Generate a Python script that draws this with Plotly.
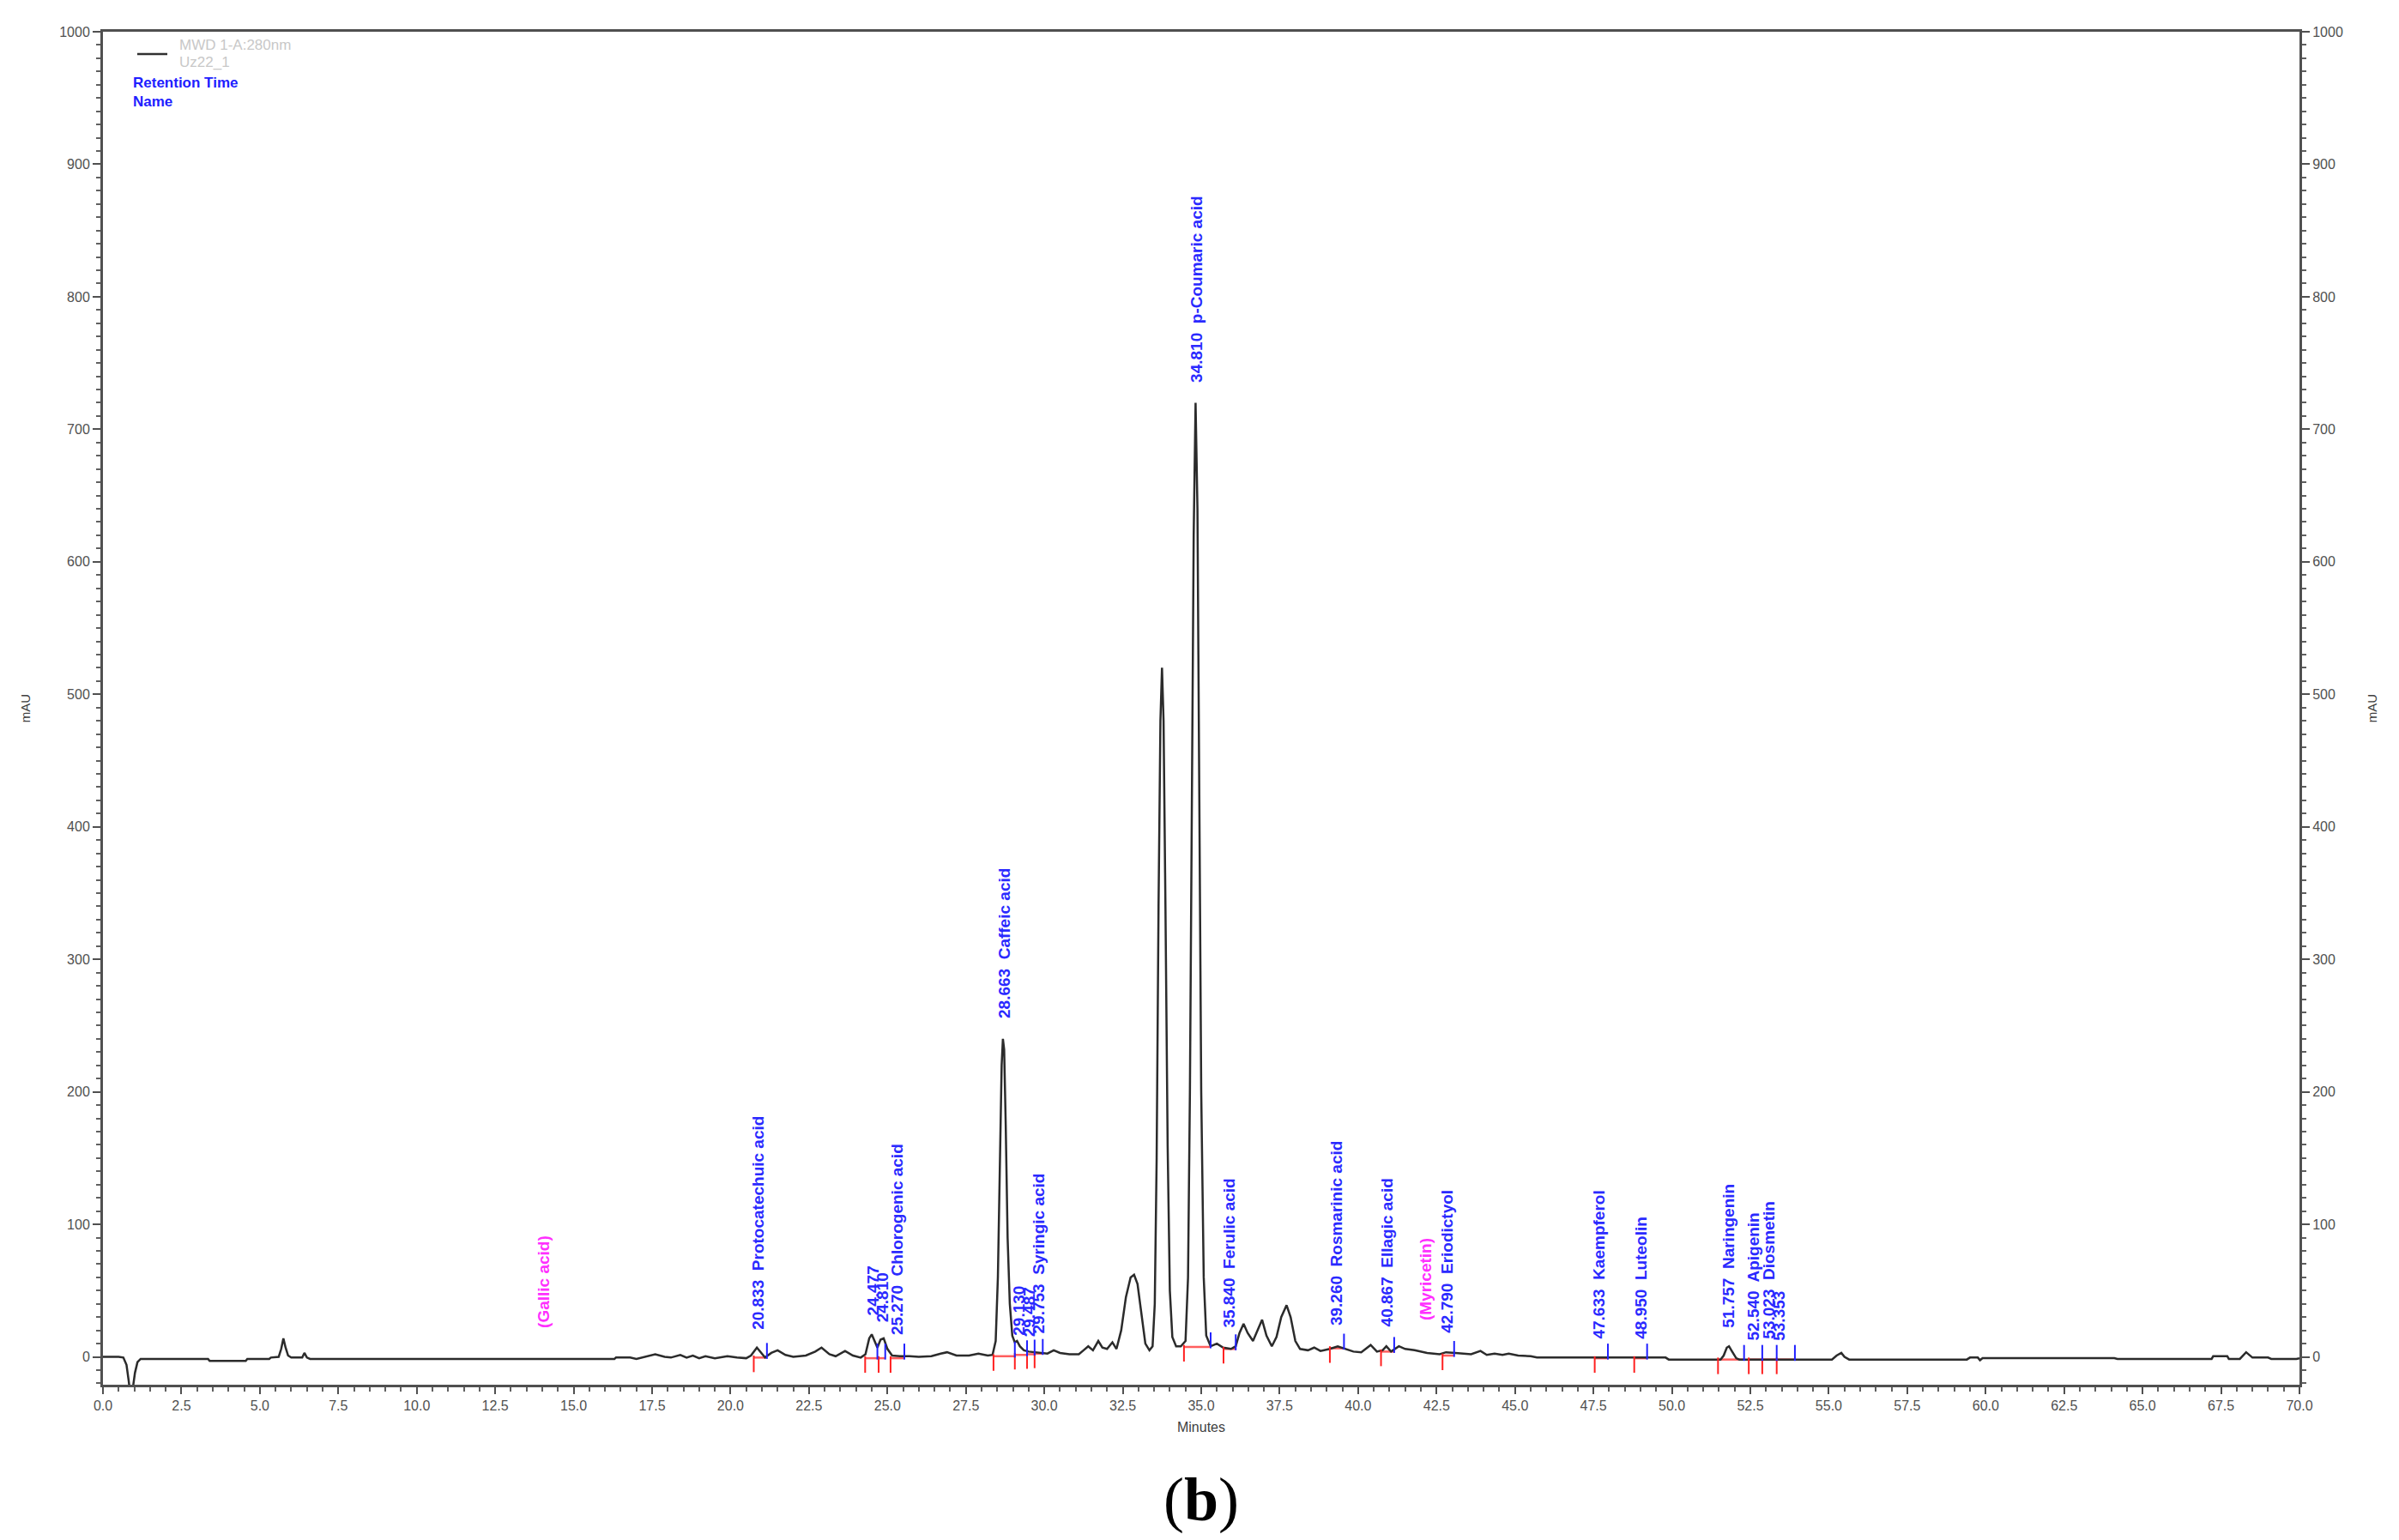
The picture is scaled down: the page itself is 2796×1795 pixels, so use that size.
import plotly.graph_objects as go

# chromatogram trace, MWD 1-A 280nm
time_min = [0.0, 0.5, 0.65, 0.75, 0.82, 0.88, 0.95, 1.02, 1.1, 1.2, 1.35, 3.35, 3.4, 4.55, 4.6, 5.3, 5.35,
            5.6, 5.68, 5.75, 5.82, 5.9, 6.0, 6.35, 6.42, 6.5, 6.6, 16.3, 16.35, 16.8, 17.0, 17.3, 17.6, 17.9,
            18.1, 18.4, 18.6, 18.8, 19.0, 19.2, 19.5, 19.9, 20.2, 20.5, 20.65, 20.84, 21.0, 21.1, 21.3, 21.5,
            21.75, 22.0, 22.4, 22.7, 22.9, 23.15, 23.35, 23.65, 23.9, 24.15, 24.3, 24.42, 24.5, 24.6, 24.68,
            24.78, 24.88, 25.0, 25.15, 25.4, 25.7, 26.0, 26.4, 26.7, 26.9, 27.2, 27.6, 27.9, 28.2, 28.35,
            28.45, 28.52, 28.58, 28.64, 28.68, 28.72, 28.77, 28.83, 28.9, 28.98, 29.06, 29.13, 29.22, 29.35,
            29.5, 29.7, 29.9, 30.1, 30.3, 30.5, 30.8, 31.1, 31.25, 31.4, 31.55, 31.72, 31.85, 32.0, 32.17,
            32.3, 32.45, 32.6, 32.75, 32.86, 32.97, 33.1, 33.22, 33.35, 33.45, 33.52, 33.58, 33.64, 33.7,
            33.75, 33.8, 33.86, 33.93, 34.0, 34.08, 34.2, 34.35, 34.5, 34.58, 34.64, 34.7, 34.76, 34.82,
            34.88, 34.94, 35.0, 35.08, 35.16, 35.3, 35.5, 35.7, 35.95, 36.1, 36.22, 36.35, 36.48, 36.65,
            36.8, 36.94, 37.08, 37.25, 37.4, 37.55, 37.72, 37.85, 38.0, 38.15, 38.4, 38.6, 38.8, 39.1,
            39.35, 39.6, 39.85, 40.1, 40.4, 40.6, 40.78, 40.9, 41.05, 41.3, 41.5, 41.8, 42.2, 42.6, 42.8,
            43.1, 43.6, 43.9, 44.1, 44.35, 44.6, 44.8, 45.1, 45.5, 45.7, 49.8, 49.9, 51.55, 51.65, 51.75,
            51.82, 51.92, 52.05, 52.15, 55.1, 55.25, 55.4, 55.5, 55.65, 59.4, 59.5, 59.75, 59.82, 59.9,
            64.1, 64.2, 67.2, 67.25, 67.7, 67.75, 68.1, 68.3, 68.5, 69.0, 69.1, 69.9, 70.0]
absorbance_mau = [0.0, 0.0, -0.5, -6, -18, -30, -24, -12, -4, -1.5, -1.5, -1.5, -3, -3, -1.5, -1.5, -0.5,
                  0, 6, 14, 7, 1, -0.5, -0.5, 3, -0.5, -1.5, -1.5, -0.5, -0.5, -1.5, 0, 2, 0,
                  -0.5, 1.5, -0.5, 1, -1, 0.5, -1, 0.5, -0.5, -1, 1, 7, 2, -0.5, 3, 5,
                  1.5, 0, 1, 4, 7, 2, 0.5, 4.5, 1, -0.5, 2, 14, 17, 12, 7,
                  13, 14, 6, 1, 0.5, 0.5, 0, 0.5, 2.5, 3.5, 1, 1, 2.5, 1, 1.5,
                  12, 60, 150, 220, 240, 232, 175, 90, 40, 16, 11, 12, 8, 5,
                  4, 3.5, 3, 2.5, 5, 3, 2, 2, 5, 8, 5, 12, 7, 6, 11,
                  6, 20, 45, 60, 62, 55, 30, 10, 5, 8, 40, 150, 340, 480,
                  520, 480, 340, 160, 50, 15, 8, 8, 12, 60, 200, 420, 620, 720,
                  640, 420, 200, 60, 16, 8, 10, 7, 6, 8, 18, 25, 18, 12,
                  20, 28, 16, 8, 15, 30, 39, 30, 12, 6, 5, 7, 4.5, 6,
                  8, 6, 4, 3.5, 9, 4, 5, 8, 4, 8, 6, 5, 3, 2, 3.5,
                  3, 2, 4.5, 1.5, 2.5, 1.5, 2.5, 1, 0.5, -0.5, -0.5, -2, -2, 1, 7,
                  8, 4, -1, -2, -2, 1, 3, 0, -2, -2, -0.5, -0.5, -2.5, -1,
                  -1, -1.5, -1.5, 0.5, 0.5, -1.5, -1.5, 3.5, -0.5, -0.5, -1.5, -1.5, -1]

# peak annotations (retention time + name)
label_text = ["(Gallic acid)", "20.833  Protocatechuic acid", "24.477", "24.810", "25.270  Chlorogenic acid",
              "28.663  Caffeic acid", "29.130", "29.487", "29.753  Syringic acid", "34.810  p-Coumaric acid",
              "35.840  Ferulic acid", "39.260  Rosmarinic acid", "40.867  Ellagic acid", "(Myricetin)",
              "42.790  Eriodictyol", "47.633  Kaempferol", "48.950  Luteolin", "51.757  Naringenin",
              "52.540  Apigenin", "53.023  Diosmetin", "53.353"]
label_rt = [14.0, 20.833, 24.477, 24.810, 25.270, 28.663, 29.130, 29.487, 29.753, 34.810, 35.840, 39.260,
            40.867, 42.1, 42.790, 47.633, 48.950, 51.757, 52.540, 53.023, 53.353]
label_y = [20.5, 19.5, 30, 25, 15, 254, 15, 14, 16, 734, 20.5, 22.5, 21.5, 26, 17, 12, 12, 20.5, 11, 12, 11]
not_found = ["(Gallic acid)", "(Myricetin)"]

# integration events: start (red), end (blue), baseline level
peak_start = [20.74, 24.29, 24.72, 25.10, 28.38, 29.06, 29.45, 29.69, 34.45, 35.71, 39.10, 40.73, 42.69,
              47.54, 48.80, 51.47, 52.45, 52.88, 53.34]
peak_end = [21.16, 24.68, 24.93, 25.54, 29.06, 29.45, 29.69, 29.95, 35.30, 36.10, 39.55, 41.15, 43.06,
            47.96, 49.21, 52.30, 52.88, 53.34, 53.92]
peak_base = [-0.5, -1, -1, -1, 0.5, 1.5, 2, 2.5, 7.5, 6, 6.5, 4, 1, -1, -1, -2, -2, -2, -2]

fig = go.Figure()

# baselines and start/end ticks
bx, by, rx, ry, ux, uy = [], [], [], [], [], []
for s, e, b in zip(peak_start, peak_end, peak_base):
    bx += [s, e, None]
    by += [b, b, None]
    rx += [s, s, None]
    ry += [b + 1.5, b - 11, None]
    ux += [e, e, None]
    uy += [b - 1, b + 11, None]

fig.add_trace(go.Scatter(x=bx, y=by, mode='lines', line=dict(color='rgba(255,40,40,0.75)', width=2.5),
                         hoverinfo='skip', showlegend=False))
fig.add_trace(go.Scatter(x=time_min, y=absorbance_mau, mode='lines', line=dict(color='#2b2b2b', width=2.5),
                         name='MWD 1-A:280nm', showlegend=False))
fig.add_trace(go.Scatter(x=rx, y=ry, mode='lines', line=dict(color='#ff2020', width=2),
                         hoverinfo='skip', showlegend=False))
fig.add_trace(go.Scatter(x=ux, y=uy, mode='lines', line=dict(color='#2020ff', width=2),
                         hoverinfo='skip', showlegend=False))
# carries the right hand axis
fig.add_trace(go.Scatter(x=[0, 70], y=[0, 0], yaxis='y2', mode='lines', line=dict(width=0),
                         hoverinfo='skip', showlegend=False))

for txt, rt, yy in zip(label_text, label_rt, label_y):
    fig.add_annotation(x=rt, y=yy, text=txt, textangle=-90, showarrow=False,
                       xanchor='center', yanchor='bottom', xshift=2,
                       font=dict(family='Liberation Sans, Arial', size=19,
                                 color='#ff30ff' if txt in not_found else '#2a2aff', weight='bold'))

# legend block, top left
fig.add_shape(type='line', xref='paper', yref='paper', x0=0.0156, x1=0.0293, y0=0.9835, y1=0.9835,
              line=dict(color='#303030', width=2.5))
legend_lines = [("MWD 1-A:280nm", 0.9899, '#c8c8c8', 'normal'), ("Uz22_1", 0.9772, '#c8c8c8', 'normal'),
                ("Retention Time", 0.9620, '#2020ff', 'bold'), ("Name", 0.9486, '#2020ff', 'bold')]
for i, (txt, py, col, w) in enumerate(legend_lines):
    fig.add_annotation(xref='paper', yref='paper', x=0.0339 if i < 2 else 0.0128, y=py, text=txt,
                       showarrow=False, xanchor='left', yanchor='middle',
                       font=dict(family='Liberation Sans, Arial', size=17, color=col, weight=w))

fig.add_annotation(xref='paper', yref='paper', x=0.5, y=-0.085, text="(<b>b</b>)", showarrow=False,
                   xanchor='center', yanchor='middle',
                   font=dict(family='Liberation Serif, Times New Roman', size=72, color='black'))

tickfont = dict(family='Liberation Sans, Arial', size=16, color='#505050')
yax = dict(range=[-21, 1000], tickvals=list(range(0, 1001, 100)), ticks='outside', ticklen=9,
           tickwidth=2, tickcolor='#505050', showline=True, linecolor='#505050', linewidth=3,
           showgrid=False, zeroline=False, tickfont=tickfont,
           minor=dict(dtick=10, ticks='outside', ticklen=5, tickcolor='#606060', tickwidth=1.5),
           title=dict(text='mAU', font=dict(family='Liberation Sans, Arial', size=15, color='#404040'),
                      standoff=30))

# page body adds an 8 px offset, so the figure is a little smaller than the window
fig.update_layout(
    width=2780, height=1780,
    margin=dict(l=112, r=108, t=29, b=174),
    plot_bgcolor='white', paper_bgcolor='white',
    xaxis=dict(range=[0, 70], dtick=2.5, tick0=0, tickformat='.1f', ticks='outside', ticklen=8,
               tickwidth=2, tickcolor='#505050', showline=True, mirror=True, linecolor='#505050',
               linewidth=3, showgrid=False, zeroline=False, tickfont=tickfont,
               minor=dict(dtick=0.5, ticks='outside', ticklen=5, tickcolor='#606060', tickwidth=1.5),
               title=dict(text='Minutes', font=dict(family='Liberation Sans, Arial', size=16, color='#404040'),
                          standoff=12)),
    yaxis=yax,
    yaxis2=dict(yax, overlaying='y', side='right'),
    showlegend=False,
)

fig.write_html("out.html")
